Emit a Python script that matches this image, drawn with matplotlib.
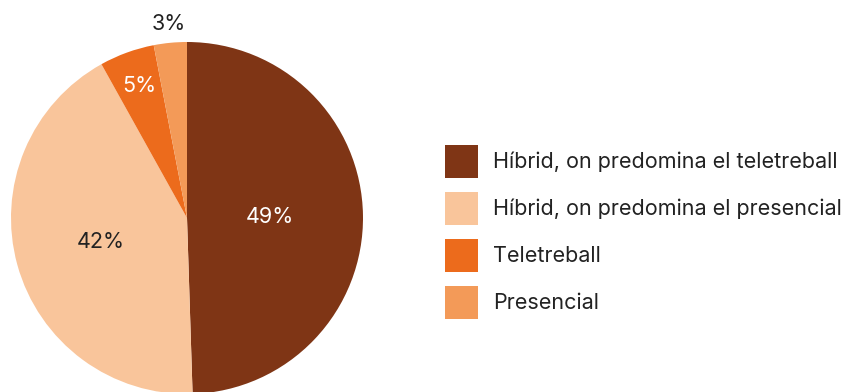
import matplotlib.pyplot as plt
import numpy as np

plt.rcParams['font.family'] = ['Inter', 'DejaVu Sans']

categories = ['Híbrid, on predomina el teletreball',
              'Híbrid, on predomina el presencial',
              'Teletreball',
              'Presencial']
values = [49, 42, 5, 3]
colors = ['#7f3515', '#f9c59b', '#ec6b1c', '#f39a58']
label_colors = ['white', '#222222', 'white', '#222222']
label_dist = [0.47, 0.51, 0.80, 1.11]

W, H = 851, 392
fig = plt.figure(figsize=(W / 100, H / 100), dpi=100)

# pie centre and radius in pixels
cx, cy, r = 187, 218, 176
ax = fig.add_axes([(cx - r) / W, (H - cy - r) / H, 2 * r / W, 2 * r / H])

wedges, _ = ax.pie(values, colors=colors, startangle=90, counterclock=False,
                   radius=1, wedgeprops=dict(linewidth=0))
ax.set_xlim(-1, 1)
ax.set_ylim(-1, 1)
ax.set_aspect('equal')
ax.axis('off')

for w, v, c, d in zip(wedges, values, label_colors, label_dist):
    ang = np.deg2rad((w.theta1 + w.theta2) / 2)
    ax.text(d * np.cos(ang), d * np.sin(ang), f'{v}%', color=c,
            ha='center', va='center', fontsize=15.5, clip_on=False)

fig.legend(wedges, categories, loc='upper left',
           bbox_to_anchor=(445 / W, 1 - 145 / H), frameon=False,
           borderpad=0, borderaxespad=0, fontsize=15.5,
           handlelength=1.53, handleheight=1.98, labelspacing=0.65,
           handletextpad=0.7, labelcolor='#222222')

fig.savefig('out.png', dpi=100)
